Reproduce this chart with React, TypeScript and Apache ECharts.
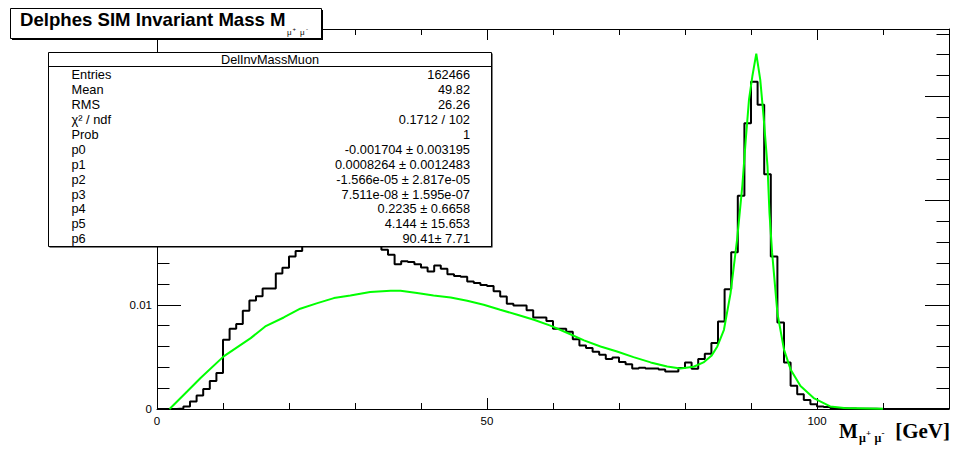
import React, { useEffect, useRef } from 'react';
import * as echarts from 'echarts';

// ---------- data ----------
const histLowEdge = 0;
const histBinWidth = 1;
const histValues = [
  0, 0, 0, 0.00005, 0.00025, 0.00073, 0.0013, 0.00192, 0.00268, 0.00345,
  0.00664, 0.0077, 0.00815, 0.00942, 0.0104, 0.01083, 0.01156, 0.01156, 0.013, 0.01355,
  0.01463, 0.01515, 0.0159, 0.0163, 0.0167, 0.017, 0.0172, 0.0174, 0.0173, 0.0171,
  0.0168, 0.0165, 0.0162, 0.0158, 0.01527, 0.0148, 0.0139, 0.01418, 0.0141, 0.0139,
  0.01358, 0.0132, 0.01377, 0.01345, 0.01294, 0.01275, 0.01268, 0.01223, 0.01208, 0.0119,
  0.0118, 0.0113, 0.0108, 0.0101, 0.00993, 0.00993, 0.00947, 0.00878, 0.00878, 0.00845,
  0.0077, 0.0077, 0.0074, 0.0067, 0.0061, 0.00585, 0.0055, 0.0052, 0.0048, 0.00495,
  0.0045, 0.0043, 0.00388, 0.00395, 0.00388, 0.00388, 0.0038, 0.0036, 0.0036, 0.00393,
  0.00447, 0.00386, 0.0048, 0.0053, 0.00633, 0.0084, 0.0115, 0.01505, 0.02045, 0.02742,
  0.03141, 0.0292, 0.02253, 0.01463, 0.0083, 0.00447, 0.00223, 0.00142, 0.00086, 0.00046,
  0.00025, 0.00018, 0.0001, 0.00008, 0.00006, 0.00004, 0.00003, 0.00002, 0.00002, 0.00001,
  0, 0, 0, 0, 0, 0, 0, 0, 0, 0,
];

const fitX = [
  1.9, 4.6, 6.6, 10.1, 14.2, 16.4, 19.2, 21.7, 24.3, 26.8, 29.3, 32.3, 35.4, 36.9, 39.4,
  41.9, 44.5, 47.0, 49.5, 52.0, 54.6, 57.1, 59.6, 62.2, 64.7, 67.2, 69.7, 72.2, 74.8, 77.3,
  79.3, 81.3, 82.8, 84.0, 84.9, 85.9, 86.9, 87.9, 88.7, 89.2, 89.7, 90.2, 90.8, 91.4, 91.9,
  92.5, 92.8, 93.2, 94.0, 95.0, 96.0, 97.5, 99.5, 102.0, 104.1, 110.0,
];
const fitY = [
  0, 0.0017, 0.00297, 0.00505, 0.0068, 0.00792, 0.00878, 0.00962, 0.01016, 0.01064, 0.01089, 0.01122, 0.01134, 0.01134, 0.01112,
  0.01089, 0.0107, 0.01038, 0.0100, 0.00952, 0.00904, 0.00856, 0.008, 0.00729, 0.00658, 0.006, 0.00552, 0.00498, 0.00447, 0.00408,
  0.00388, 0.00405, 0.00447, 0.0051, 0.006, 0.0076, 0.0111, 0.0163, 0.0215, 0.0258, 0.0297, 0.0319, 0.0341, 0.0316, 0.0281,
  0.0233, 0.0188, 0.015, 0.0092, 0.0057, 0.0038, 0.0022, 0.00105, 0.00025, 0.0001, 0.00002,
];

const xTickLabels = ['0', '50', '100'];
const yTickLabels = ['0', '0.01'];

const titleMain = 'Delphes SIM Invariant Mass M';
const statsTitle = 'DelInvMassMuon';
const statLabels = ['Entries', 'Mean', 'RMS', 'χ² / ndf', 'Prob', 'p0', 'p1', 'p2', 'p3', 'p4', 'p5', 'p6'];
const statValues = [
  '162466', '49.82', '26.26', '0.1712 / 102', '1',
  '-0.001704 ± 0.003195', '0.0008264 ± 0.0012483', '-1.566e-05 ± 2.817e-05',
  '7.511e-08 ± 1.595e-07', '0.2235 ± 0.6658', '4.144 ± 15.653', '90.41± 7.71',
];

const X_MIN = 0;
const X_MAX = 120;
const Y_MIN = 0;
const Y_MAX = 0.03646;

const SANS = '"Liberation Sans", Arial, Helvetica, sans-serif';
const SERIF = '"Liberation Serif", "Times New Roman", serif';

export default function App() {
  const ref = useRef<HTMLDivElement>(null);

  useEffect(() => {
    if (!ref.current) return;
    const chart = echarts.init(ref.current, null, { renderer: 'svg' });

    const histData: [number, number][] = histValues.map((v, i) => [histLowEdge + i * histBinWidth, v]);
    histData.push([histLowEdge + histValues.length * histBinWidth, histValues[histValues.length - 1]]);
    const fitData = fitX.map((x, i) => [x, fitY[i]]);

    const black = '#000';
    const xBase = (pos: 'bottom' | 'top', interval: number, len: number, line: boolean, labels: boolean) => ({
      type: 'value', gridIndex: 0, position: pos, min: X_MIN, max: X_MAX, interval,
      axisLine: { show: line, onZero: false, lineStyle: { color: black, width: 1 } },
      axisTick: { show: true, inside: true, length: len, lineStyle: { color: black, width: 1 } },
      axisLabel: labels ? {
        show: true, interval: 0, margin: 6, color: black, fontSize: 11.5, fontFamily: SANS,
        formatter: (v: number) => { const s = String(Math.round(v * 1000) / 1000); return xTickLabels.includes(s) ? s : ''; },
      } : { show: false },
      splitLine: { show: false },
    });
    const yBase = (pos: 'left' | 'right', interval: number, len: number, line: boolean, labels: boolean) => ({
      type: 'value', gridIndex: 0, position: pos, min: Y_MIN, max: Y_MAX, interval,
      axisLine: { show: line, onZero: false, lineStyle: { color: black, width: 1 } },
      axisTick: { show: true, inside: true, length: len, lineStyle: { color: black, width: 1 } },
      axisLabel: labels ? {
        show: true, interval: 0, margin: 5, color: black, fontSize: 11.5, fontFamily: SANS,
        showMaxLabel: false,
        formatter: (v: number) => { const s = String(Math.round(v * 10000) / 10000); return yTickLabels.includes(s) ? s : ''; },
      } : { show: false },
      splitLine: { show: false },
    });

    const graphics: any[] = [];
    // title box
    graphics.push({ type: 'rect', z: 100, shape: { x: 12, y: 10, width: 311, height: 30 }, style: { fill: '#000' } });
    graphics.push({ type: 'rect', z: 101, shape: { x: 10.5, y: 8.5, width: 311, height: 30 }, style: { fill: '#fff', stroke: '#000', lineWidth: 1 } });
    graphics.push({ type: 'text', z: 102, x: 20, y: 19, style: { text: titleMain, font: `bold 18.6px ${SANS}`, fill: '#000', verticalAlign: 'middle', align: 'left' } });
    graphics.push({ type: 'text', z: 102, x: 287, y: 32.5, style: { text: 'μ', font: `8px ${SANS}`, fill: '#000', verticalAlign: 'middle' } });
    graphics.push({ type: 'text', z: 102, x: 292.5, y: 28.5, style: { text: '+', font: `6px ${SANS}`, fill: '#000', verticalAlign: 'middle' } });
    graphics.push({ type: 'text', z: 102, x: 300, y: 32.5, style: { text: 'μ', font: `8px ${SANS}`, fill: '#000', verticalAlign: 'middle' } });
    graphics.push({ type: 'text', z: 102, x: 306, y: 28.5, style: { text: '-', font: `6px ${SANS}`, fill: '#000', verticalAlign: 'middle' } });

    // stats box
    graphics.push({ type: 'rect', z: 100, shape: { x: 49.5, y: 53.5, width: 443, height: 194 }, style: { fill: '#000' } });
    graphics.push({ type: 'rect', z: 101, shape: { x: 48.5, y: 52.5, width: 443, height: 194 }, style: { fill: '#fff', stroke: '#000', lineWidth: 1 } });
    graphics.push({ type: 'line', z: 102, shape: { x1: 48.5, y1: 66.5, x2: 491.5, y2: 66.5 }, style: { stroke: '#000', lineWidth: 1 } });
    graphics.push({ type: 'text', z: 102, x: 270, y: 59.5, style: { text: statsTitle, font: `12.7px ${SANS}`, fill: '#000', align: 'center', verticalAlign: 'middle' } });
    statLabels.forEach((lab, k) => {
      const y = 74.8 + k * 14.9;
      graphics.push({ type: 'text', z: 102, x: 71.5, y, style: { text: lab, font: `12.8px ${SANS}`, fill: '#000', align: 'left', verticalAlign: 'middle' } });
      graphics.push({ type: 'text', z: 102, x: 470, y, style: { text: statValues[k], font: `12.8px ${SANS}`, fill: '#000', align: 'right', verticalAlign: 'middle' } });
    });

    // x axis title
    graphics.push({ type: 'text', z: 102, x: 839, y: 431, style: { text: 'M', font: `bold 20px ${SERIF}`, fill: '#000', align: 'left', verticalAlign: 'middle' } });
    graphics.push({ type: 'text', z: 102, x: 859, y: 438, style: { text: 'μ', font: `bold 12px ${SERIF}`, fill: '#000', align: 'left', verticalAlign: 'middle' } });
    graphics.push({ type: 'text', z: 102, x: 866, y: 432.5, style: { text: '+', font: `bold 9px ${SERIF}`, fill: '#000', align: 'left', verticalAlign: 'middle' } });
    graphics.push({ type: 'text', z: 102, x: 874.5, y: 438, style: { text: 'μ', font: `bold 12px ${SERIF}`, fill: '#000', align: 'left', verticalAlign: 'middle' } });
    graphics.push({ type: 'text', z: 102, x: 881.5, y: 432.5, style: { text: '-', font: `bold 9px ${SERIF}`, fill: '#000', align: 'left', verticalAlign: 'middle' } });
    graphics.push({ type: 'text', z: 102, x: 950, y: 431, style: { text: '[GeV]', font: `bold 21px ${SERIF}`, fill: '#000', align: 'right', verticalAlign: 'middle' } });

    chart.setOption({
      animation: false,
      backgroundColor: '#fff',
      grid: { left: 157, top: 29, width: 792, height: 380, containLabel: false },
      xAxis: [
        xBase('bottom', 10, 6, true, true),
        xBase('bottom', 50, 11, false, false),
        xBase('top', 10, 6, true, false),
        xBase('top', 50, 11, false, false),
      ],
      yAxis: [
        yBase('left', 0.01, 24, true, true),
        yBase('left', 0.002, 12.5, false, false),
        yBase('right', 0.01, 24, true, false),
        yBase('right', 0.002, 12.5, false, false),
      ],
      series: [
        {
          type: 'line', name: 'DelInvMassMuon', xAxisIndex: 0, yAxisIndex: 0, step: 'end',
          data: histData, symbol: 'none', z: 3,
          lineStyle: { color: '#000', width: 2 },
        },
        {
          type: 'line', name: 'fit', xAxisIndex: 0, yAxisIndex: 0,
          data: fitData, symbol: 'none', z: 4, smooth: false,
          lineStyle: { color: '#00ff00', width: 2 },
        },
      ],
      graphic: graphics,
    });

    return () => chart.dispose();
  }, []);

  return (
    <div
      ref={ref}
      style={{ position: 'absolute', left: 0, top: 0, width: 954, height: 450, background: '#fff' }}
    />
  );
}
